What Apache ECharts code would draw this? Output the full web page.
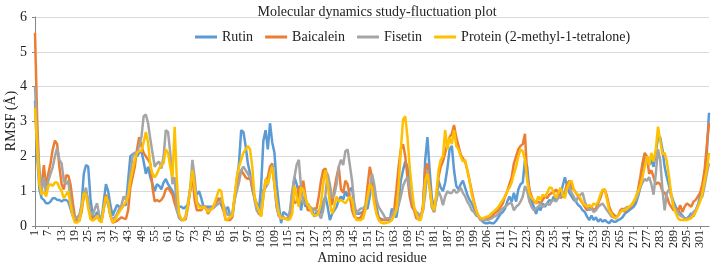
<!DOCTYPE html>
<html>
<head>
<meta charset="utf-8">
<script src="https://cdn.jsdelivr.net/npm/echarts@6/dist/echarts.min.js"></script>
<style>html,body{margin:0;padding:0;background:#fff}#c{width:711px;height:265px}</style>
</head>
<body>
<div id="c"></div>
<script>
// Residue labels (one insertion after 210 as in the source numbering, 205 absent)
const residues = [];
for (let r = 1; r <= 204; r++) residues.push(String(r));
['206','207','208','209','210','210A'].forEach(function (s) { residues.push(s); });
for (let r = 211; r <= 305; r++) residues.push(String(r));

const seriesNames = ['Rutin', 'Baicalein', 'Fisetin', 'Protein (2-methyl-1-tetralone)'];
const seriesColors = ['#5B9BD5', '#ED7D31', '#A5A5A5', '#FFC000'];
const xAxisTitle = 'Amino acid residue';
const yAxisTitle = 'RMSF (Å)';

const rutin = [
3.6,2.0,1.05,0.8,0.75,0.65,0.65,0.7,0.8,0.8,
0.75,0.75,0.7,0.75,0.75,0.7,0.5,0.3,0.15,0.25,
0.3,0.6,1.5,1.75,1.7,0.8,0.3,0.25,0.4,0.3,
0.15,0.7,1.2,1.0,0.6,0.3,0.45,0.6,0.55,0.5,
0.6,0.6,1.3,2.0,2.05,2.1,2.0,2.1,2.15,1.85,
1.5,1.7,1.4,1.2,1.0,1.2,1.15,1.05,1.25,1.35,
1.2,1.1,1.0,0.85,0.6,0.55,0.55,0.5,0.55,0.6,
1.0,1.4,1.1,0.9,1.0,0.8,0.55,0.55,0.55,0.55,
0.55,0.6,0.75,0.8,0.6,0.45,0.45,0.55,0.3,0.35,
0.8,1.3,1.8,2.75,2.7,2.3,1.8,1.5,1.05,0.8,
0.65,0.45,1.15,2.45,2.75,2.2,2.95,2.4,2.1,1.2,
0.6,0.08,0.4,0.35,0.3,0.22,0.85,1.4,1.2,0.95,
0.45,0.85,0.55,0.65,0.55,0.45,0.27,0.4,0.35,0.4,
0.7,0.85,0.55,0.17,0.35,0.45,0.55,0.75,0.85,0.75,
1.0,0.85,1.05,1.1,0.55,0.35,0.35,0.38,0.4,0.5,
0.5,0.85,1.3,1.0,0.55,0.25,0.2,0.18,0.17,0.17,
0.17,0.5,0.3,0.25,0.65,1.3,1.6,1.85,1.7,1.2,
0.85,0.45,0.4,0.3,0.3,0.45,1.9,2.55,1.6,0.8,
0.5,0.75,1.3,1.1,1.0,1.25,1.65,2.2,2.3,1.6,
1.15,1.05,1.2,1.3,1.1,0.9,0.75,0.65,0.5,0.4,
0.3,0.2,0.12,0.08,0.08,0.1,0.08,0.08,0.15,0.25,
0.35,0.4,0.5,0.7,0.85,0.7,0.95,0.7,1.05,1.2,
1.25,1.9,1.7,1.0,0.7,0.55,0.35,0.55,0.45,0.65,
0.55,0.65,0.75,0.7,0.85,0.75,0.85,0.9,1.15,1.4,
1.15,0.95,0.85,0.75,0.7,0.6,0.55,0.45,0.4,0.27,
0.17,0.3,0.17,0.25,0.12,0.2,0.12,0.17,0.12,0.08,
0.17,0.12,0.12,0.17,0.2,0.25,0.35,0.4,0.45,0.5,
0.55,0.65,0.85,1.1,1.5,1.9,2.0,1.75,1.9,1.7,
2.1,2.55,2.55,2.2,1.7,1.4,1.15,0.9,0.7,0.55,
0.45,0.37,0.3,0.22,0.22,0.27,0.37,0.27,0.45,0.6,
0.85,1.1,1.4,2.1,3.25];

const baicalein = [
5.55,3.0,1.4,1.2,1.75,1.1,1.5,1.8,2.2,2.45,
2.35,1.7,1.2,1.05,1.45,1.45,1.2,0.7,0.27,0.15,
0.15,0.4,0.85,1.0,0.7,0.3,0.2,0.2,0.3,0.25,
0.15,0.5,0.9,0.7,0.3,0.1,0.12,0.15,0.2,0.25,
0.22,0.2,0.45,1.1,1.4,1.7,2.2,2.55,2.3,2.1,
2.0,1.9,1.8,1.1,0.7,0.75,0.7,0.75,0.85,1.05,
1.1,1.0,0.9,0.65,0.45,0.3,0.17,0.17,0.2,0.55,
1.1,1.45,0.75,0.45,0.45,0.45,0.55,0.55,0.35,0.45,
0.5,0.55,0.7,0.75,0.8,0.45,0.17,0.17,0.17,0.25,
0.75,1.2,1.4,1.6,1.5,1.4,1.35,1.4,1.1,0.85,
0.5,0.35,0.3,0.85,1.3,1.4,1.7,1.8,1.2,0.55,
0.3,0.22,0.22,0.22,0.22,0.3,0.95,0.65,0.7,1.15,
1.05,1.3,0.85,0.45,0.45,0.45,0.5,0.5,0.85,1.3,
1.6,1.65,1.4,0.85,0.6,1.05,1.4,1.7,1.05,0.95,
1.3,1.2,0.85,0.45,0.27,0.22,0.22,0.25,0.4,0.55,
1.15,1.7,1.4,0.85,0.4,0.22,0.17,0.17,0.17,0.2,
0.22,0.3,0.45,1.05,1.7,2.2,2.35,2.0,1.4,0.85,
0.55,0.45,0.22,0.2,0.22,0.6,1.6,1.8,1.2,0.55,
0.4,0.85,1.4,1.7,1.85,2.1,2.35,2.55,2.65,2.9,
2.55,2.3,2.05,1.95,1.85,1.6,1.3,1.0,0.7,0.45,
0.27,0.17,0.17,0.17,0.22,0.25,0.27,0.35,0.4,0.45,
0.55,0.65,0.85,1.0,1.2,1.4,1.8,2.0,2.2,2.3,
2.35,2.65,1.4,1.05,0.85,0.7,0.65,0.7,0.65,0.75,
0.85,0.8,0.9,0.95,0.95,1.05,0.95,0.8,0.85,1.0,
1.2,1.3,1.1,1.05,0.95,0.85,0.75,0.65,0.55,0.45,
0.5,0.55,0.45,0.5,0.65,0.8,1.0,1.05,0.85,0.55,
0.4,0.33,0.27,0.3,0.45,0.5,0.4,0.55,0.5,0.6,
0.65,0.75,1.05,1.4,1.8,2.1,2.0,1.5,1.6,1.4,
1.2,1.25,1.2,1.0,0.95,0.85,0.65,0.55,0.45,0.5,
0.4,0.6,0.4,0.55,0.65,0.6,0.55,0.7,0.75,0.85,
0.95,1.2,1.6,2.3,2.95];

const fisetin = [
4.0,2.5,1.6,1.0,1.4,0.9,1.3,1.5,1.7,2.0,
2.25,1.9,1.8,1.3,1.2,1.3,0.8,0.4,0.2,0.25,
0.3,0.5,0.9,1.1,0.7,0.4,0.3,0.5,0.65,0.3,
0.2,0.5,0.8,0.6,0.3,0.2,0.25,0.35,0.5,0.6,
0.85,0.75,0.9,1.5,2.0,2.1,2.1,2.3,2.55,3.15,
3.2,2.95,2.5,2.1,1.7,1.8,1.85,1.65,2.0,2.75,
2.7,2.1,1.2,1.4,0.45,0.22,0.17,0.17,0.3,0.7,
1.05,1.9,1.4,0.7,0.6,0.55,0.55,0.5,0.45,0.5,
0.5,0.55,0.6,0.65,0.75,0.6,0.45,0.3,0.35,0.27,
0.75,1.0,1.25,1.6,1.7,1.6,1.5,1.4,1.3,0.75,
0.45,0.35,0.45,1.05,1.1,1.2,1.5,1.75,1.2,0.55,
0.27,0.27,0.27,0.2,0.2,0.45,1.0,1.4,1.75,1.9,
1.1,0.65,0.65,0.6,0.55,0.5,0.45,0.45,0.35,0.22,
0.45,0.9,1.5,1.2,0.8,0.9,1.2,1.7,1.9,1.75,
2.15,2.2,1.75,1.3,0.65,0.35,0.45,0.5,0.5,0.6,
0.75,1.05,1.5,1.2,0.75,0.55,0.45,0.35,0.22,0.22,
0.22,0.3,0.45,0.45,0.6,0.85,1.15,1.3,1.4,1.1,
0.8,0.5,0.4,0.35,0.27,0.45,0.9,1.6,1.1,0.55,
0.4,0.75,1.0,0.85,0.6,0.85,1.0,0.95,0.95,1.05,
0.95,1.0,1.1,0.95,0.85,0.7,0.6,0.45,0.4,0.3,
0.27,0.17,0.17,0.17,0.17,0.2,0.22,0.27,0.3,0.35,
0.45,0.5,0.55,0.6,0.65,0.65,0.45,0.55,0.6,0.7,
0.85,1.15,1.0,0.7,0.55,0.45,0.5,0.55,0.65,0.55,
0.6,0.65,0.6,0.7,0.75,0.7,0.8,0.85,0.9,1.0,
1.05,1.15,0.95,0.85,0.7,0.85,0.9,0.95,0.7,0.55,
0.45,0.5,0.4,0.45,0.55,0.6,0.65,0.55,0.45,0.37,
0.27,0.25,0.22,0.3,0.4,0.45,0.5,0.5,0.55,0.6,
0.7,0.75,0.9,1.1,1.25,1.35,1.3,1.4,1.2,0.9,
1.5,2.2,1.9,1.05,0.45,0.95,1.05,0.85,0.6,0.45,
0.37,0.3,0.27,0.22,0.22,0.22,0.3,0.4,0.45,0.6,
0.75,0.85,1.15,1.5,1.8];

const protein = [
3.4,2.2,1.2,0.9,1.0,0.85,1.15,1.2,1.15,1.25,
1.25,1.1,1.0,0.8,0.9,1.0,0.6,0.3,0.1,0.1,
0.15,0.5,0.95,0.9,0.5,0.2,0.15,0.2,0.3,0.15,
0.1,0.5,0.85,0.7,0.3,0.1,0.15,0.3,0.4,0.5,
0.6,0.7,0.85,1.3,1.6,1.9,2.1,2.15,2.15,2.4,
2.7,2.4,1.75,1.5,1.4,1.5,1.65,1.75,1.8,2.2,
2.1,1.7,1.4,2.85,1.3,0.35,0.2,0.17,0.27,0.6,
1.05,1.6,1.1,0.65,0.55,0.5,0.55,0.5,0.4,0.45,
0.5,0.65,0.85,1.05,1.0,0.55,0.17,0.2,0.25,0.3,
0.85,1.4,1.7,1.9,2.1,2.2,2.3,2.2,1.7,0.85,
0.6,0.45,0.27,0.85,1.35,1.2,1.5,1.7,1.2,0.7,
0.35,0.22,0.22,0.22,0.17,0.2,0.35,1.15,0.85,0.55,
1.1,1.05,0.8,0.6,0.55,0.35,0.3,0.3,0.4,0.65,
1.2,1.6,1.2,0.65,0.35,0.55,0.85,0.7,0.75,0.7,
0.65,0.75,0.85,0.75,0.35,0.17,0.17,0.17,0.22,0.45,
0.85,1.2,1.1,0.65,0.35,0.17,0.1,0.08,0.08,0.1,
0.12,0.17,0.3,0.45,1.1,2.2,3.05,3.15,2.55,1.7,
1.05,0.55,0.35,0.17,0.17,0.5,1.3,1.5,1.1,0.6,
0.45,0.9,1.6,1.9,2.0,2.75,2.2,2.55,2.35,2.75,
2.3,2.2,2.0,1.85,1.9,1.6,1.3,0.9,0.65,0.45,
0.3,0.22,0.22,0.25,0.27,0.3,0.37,0.42,0.48,0.55,
0.65,0.75,0.85,1.0,1.1,1.25,1.5,1.7,2.0,2.2,
2.15,1.9,1.3,0.95,0.8,0.75,0.65,0.85,0.75,0.9,
0.85,0.95,1.1,1.1,0.95,0.8,0.95,1.1,0.9,0.8,
1.1,1.25,1.3,1.05,0.95,0.9,0.8,0.65,0.6,0.55,
0.6,0.55,0.65,0.6,0.7,0.9,1.05,1.05,0.75,0.45,
0.35,0.25,0.22,0.3,0.4,0.45,0.45,0.5,0.55,0.6,
0.7,0.85,1.0,1.15,1.4,1.7,2.0,1.75,2.1,1.85,
2.2,2.85,2.45,2.05,2.1,1.85,1.4,0.9,0.55,0.37,
0.22,0.17,0.17,0.17,0.17,0.2,0.22,0.3,0.4,0.55,
0.7,0.95,1.3,1.6,2.1];

const yTicks = { min: 0, max: 6, step: 1 };

const seriesData = [rutin, baicalein, fisetin, protein];
const FONT = '"Liberation Serif", "Times New Roman", serif';

const chart = echarts.init(document.getElementById('c'), null, { renderer: 'canvas' });
chart.setOption({
  animation: false,
  backgroundColor: '#fff',
  title: {
    text: 'Molecular dynamics study-fluctuation plot',
    left: 372, top: 0, textAlign: 'center',
    textStyle: { fontFamily: FONT, fontSize: 14, fontWeight: 'normal', color: '#222' }
  },
  legend: {
    top: 25, left: 190,
    icon: 'rect', itemWidth: 22, itemHeight: 3, itemGap: 12,
    textStyle: { fontFamily: FONT, fontSize: 14, color: '#222' },
    data: seriesNames
  },
  graphic: [
    { type: 'text', x: 372, y: 258,
      style: { text: xAxisTitle, fill: '#222', font: '14px ' + FONT, textAlign: 'center', textVerticalAlign: 'middle' } },
    { type: 'text', x: 11, y: 121, rotation: Math.PI / 2,
      style: { text: yAxisTitle, fill: '#222', font: '14px ' + FONT, textAlign: 'center', textVerticalAlign: 'middle' } }
  ],
  grid: { left: 35, right: 2, top: 17, bottom: 39, containLabel: false, outerBoundsMode: 'none' },
  xAxis: {
    type: 'category',
    data: residues,
    boundaryGap: false,
    axisLine: { lineStyle: { color: '#868686', width: 1 } },
    axisTick: { show: true, interval: 5, length: 3, lineStyle: { color: '#868686' } },
    axisLabel: { interval: 5, rotate: 90, fontFamily: FONT, fontSize: 12, color: '#222', margin: 4 },
    splitLine: { show: false }
  },
  yAxis: {
    type: 'value',
    min: yTicks.min, max: yTicks.max, interval: yTicks.step,
    axisLine: { show: true, lineStyle: { color: '#868686', width: 1 } },
    axisTick: { show: true, length: 3, lineStyle: { color: '#868686' } },
    axisLabel: { fontFamily: FONT, fontSize: 14, color: '#222', margin: 8 },
    splitLine: { lineStyle: { color: '#d9d9d9', width: 1 } }
  },
  series: seriesNames.map(function (n, k) {
    return {
      name: n, type: 'line', data: seriesData[k],
      showSymbol: false, symbol: 'none', smooth: false,
      color: seriesColors[k],
      lineStyle: { width: 2.5, color: seriesColors[k] }
    };
  })
});
</script>
</body>
</html>
